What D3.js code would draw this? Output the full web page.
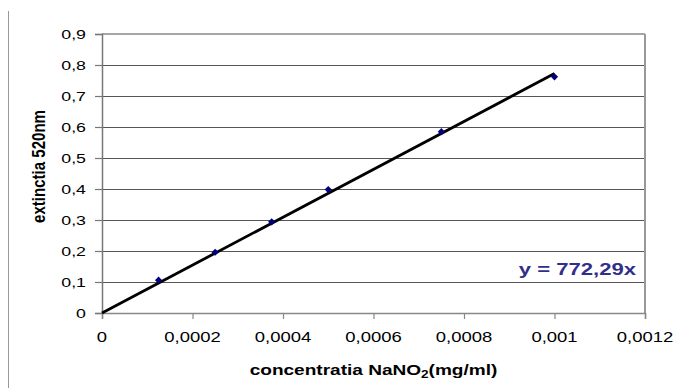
<!DOCTYPE html>
<html lang="ro">
<head>
  <meta charset="utf-8">
  <title>Curba de calibrare NaNO2</title>
  <script src="https://d3js.org/d3.v7.min.js"></script>
  <style>
    html, body { margin:0; padding:0; background:#fff; }
    svg { display:block; font-family:"Liberation Sans", Arial, sans-serif; }
  </style>
</head>
<body>
  <svg id="chart" width="679" height="388"></svg>
  <script>
    // ─── Data ───────────────────────────────────────────────
    const concentration = [0.000125, 0.00025, 0.000375, 0.0005, 0.00075, 0.001];
    const extinction    = [0.106, 0.196, 0.294, 0.398, 0.585, 0.762];
    const slope = 772.29;            // trendline y = 772,29x
    const trendRange = [0, 0.001];
    const xTicks = [0, 0.0002, 0.0004, 0.0006, 0.0008, 0.001, 0.0012];
    const xTickLabels = ["0", "0,0002", "0,0004", "0,0006", "0,0008", "0,001", "0,0012"];
    const yTicks = [0, 0.1, 0.2, 0.3, 0.4, 0.5, 0.6, 0.7, 0.8, 0.9];
    const yTickLabels = ["0", "0,1", "0,2", "0,3", "0,4", "0,5", "0,6", "0,7", "0,8", "0,9"];
    // ─────────────────────────────────────────────────────────

    const svg = d3.select("#chart");
    const plot = { left: 102, right: 645, top: 34, bottom: 313 };

    const x = d3.scaleLinear().domain([0, 0.0012]).range([plot.left, plot.right]);
    const y = d3.scaleLinear().domain([0, 0.9]).range([plot.bottom, plot.top]);

    // outer chart-area edge on the left
    svg.append("line")
      .attr("x1", 8.5).attr("x2", 8.5).attr("y1", 11).attr("y2", 388)
      .attr("stroke", "#999").attr("stroke-width", 1);

    // horizontal gridlines
    svg.append("g").selectAll("line")
      .data(yTicks.filter(d => d > 0 && d < 0.9))
      .join("line")
        .attr("x1", plot.left).attr("x2", plot.right)
        .attr("y1", d => Math.round(y(d)) + 0.5).attr("y2", d => Math.round(y(d)) + 0.5)
        .attr("stroke", "#555").attr("stroke-width", 1);

    // top and right border
    svg.append("line")
      .attr("x1", plot.left).attr("x2", plot.right)
      .attr("y1", y(0.9)).attr("y2", y(0.9))
      .attr("stroke", "#888").attr("stroke-width", 1.5);
    svg.append("line")
      .attr("x1", plot.right).attr("x2", plot.right)
      .attr("y1", plot.top).attr("y2", plot.bottom)
      .attr("stroke", "#999").attr("stroke-width", 2);

    // y axis
    const yAxis = svg.append("g")
      .attr("transform", `translate(${plot.left},0)`)
      .call(d3.axisLeft(y).tickValues(yTicks).tickSize(7).tickFormat(""));
    yAxis.select(".domain").attr("stroke", "#777").attr("stroke-width", 1.5);
    yAxis.selectAll(".tick line").attr("stroke", "#777").attr("stroke-width", 1.2);

    // x axis
    const xAxis = svg.append("g")
      .attr("transform", `translate(0,${plot.bottom})`)
      .call(d3.axisBottom(x).tickValues(xTicks).tickSize(6).tickFormat(""));
    xAxis.select(".domain").attr("stroke", "#888").attr("stroke-width", 1.5);
    xAxis.selectAll(".tick line").attr("stroke", "#888").attr("stroke-width", 1.2);

    // tick labels (the picture's glyphs are horizontally stretched)
    svg.append("g").selectAll("text")
      .data(yTicks)
      .join("text")
        .attr("transform", d => `translate(86,${y(d) + 4.5}) scale(1.42,1)`)
        .attr("text-anchor", "end")
        .attr("font-size", 12.5)
        .attr("fill", "#000")
        .text((d, i) => yTickLabels[i]);

    svg.append("g").selectAll("text")
      .data(xTicks)
      .join("text")
        .attr("transform", d => `translate(${x(d)},342) scale(1.32,1)`)
        .attr("text-anchor", "middle")
        .attr("font-size", 14)
        .attr("fill", "#000")
        .text((d, i) => xTickLabels[i]);

    // axis titles
    const xTitle = svg.append("text")
      .attr("transform", `translate(${(plot.left + plot.right) / 2},375) scale(1.36,1)`)
      .attr("text-anchor", "middle")
      .attr("font-size", 14)
      .attr("font-weight", "bold")
      .attr("fill", "#000");
    xTitle.append("tspan").text("concentratia NaNO");
    xTitle.append("tspan").attr("font-size", 10).attr("dy", 3).text("2");
    xTitle.append("tspan").attr("dy", -3).text("(mg/ml)");

    svg.append("text")
      .attr("transform", "translate(45,166.5) rotate(-90) scale(1,1.35)")
      .attr("text-anchor", "middle")
      .attr("font-size", 13)
      .attr("font-weight", "bold")
      .attr("fill", "#000")
      .attr("textLength", 113)
      .attr("lengthAdjust", "spacingAndGlyphs")
      .text("extinctia 520nm");

    // trendline
    const line = d3.line().x(d => x(d)).y(d => y(slope * d));
    svg.append("path")
      .datum(trendRange)
      .attr("d", line)
      .attr("fill", "none")
      .attr("stroke", "#000")
      .attr("stroke-width", 2.8);

    // data markers (square diamonds)
    svg.append("g").selectAll("path")
      .data(concentration.map((c, i) => [c, extinction[i]]))
      .join("path")
        .attr("transform", d => `translate(${x(d[0])},${y(d[1])}) rotate(45)`)
        .attr("d", d3.symbol(d3.symbolSquare, 26))
        .attr("fill", "#000080");

    // equation label
    svg.append("text")
      .attr("transform", "translate(636,275) scale(1.38,1)")
      .attr("text-anchor", "end")
      .attr("font-size", 16)
      .attr("font-weight", "bold")
      .attr("fill", "#30308a")
      .text("y = 772,29x");
  </script>
</body>
</html>
